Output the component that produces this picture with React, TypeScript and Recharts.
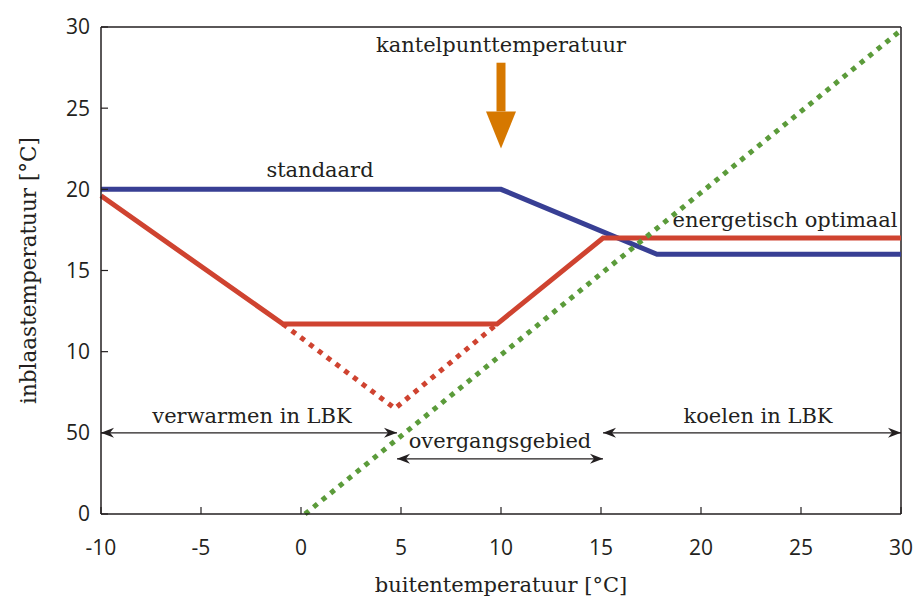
import { LineChart, Line, XAxis, YAxis, ReferenceLine, ReferenceDot } from "recharts";

const X_TICKS = [-10, -5, 0, 5, 10, 15, 20, 25, 30];
const Y_TICKS = [0, 5, 10, 15, 20, 25, 30];
const Y_TICK_LABELS = ["0", "50", "10", "15", "20", "25", "30"];

// inblaastemperatuur per buitentemperatuur
const STANDAARD = [
  { x: -10, y: 20 },
  { x: 10, y: 20 },
  { x: 17.8, y: 16 },
  { x: 30, y: 16 },
];
const OPTIMAAL = [
  { x: -10, y: 19.6 },
  { x: -0.9, y: 11.7 },
  { x: 9.8, y: 11.7 },
  { x: 15.1, y: 17 },
  { x: 30, y: 17 },
];
const OPTIMAAL_ZONDER_GRENS = [
  { x: -0.9, y: 11.7 },
  { x: 4.7, y: 6.5 },
  { x: 9.8, y: 11.7 },
];
const GELIJK = [
  { x: 0.2, y: 0 },
  { x: 30, y: 29.8 },
];

// pijlen
const VERWARMEN = [
  { x: -10, y: 5 },
  { x: 4.8, y: 5 },
];
const KOELEN = [
  { x: 15.1, y: 5 },
  { x: 30, y: 5 },
];
const OVERGANG = [
  { x: 4.8, y: 3.4 },
  { x: 15.1, y: 3.4 },
];
const KANTELPUNT = [
  { x: 10, y: 27.8 },
  { x: 10, y: 24.8 },
];

const LABELS = [
  { text: "kantelpunttemperatuur", x: 10, y: 28.9 },
  { text: "standaard", x: 0.95, y: 21.2 },
  { text: "energetisch optimaal", x: 24.2, y: 18.1 },
  { text: "verwarmen in LBK", x: -2.45, y: 6.05 },
  { text: "overgangsgebied", x: 9.95, y: 4.5 },
  { text: "koelen in LBK", x: 22.85, y: 6.05 },
];

const INK = "#231f20";
const BLUE = "#383f94";
const RED = "#cf4330";
const GREEN = "#5b9b3a";
const ORANGE = "#d67800";
const SERIF = "'DejaVu Serif', serif";
const SANS = "'Open Sans', sans-serif";

function arrowDot(props: any) {
  const { cx, cy, index } = props;
  if (cx == null || cy == null) return <g key={`a-${index}`} />;
  const d = index === 0 ? -1 : 1;
  const path = `M${cx},${cy} L${cx - d * 13},${cy - 5} L${cx - d * 9},${cy} L${cx - d * 13},${cy + 5} Z`;
  return <path key={`a-${index}`} d={path} fill={INK} stroke="none" />;
}

function headDot(props: any) {
  const { cx, cy, index } = props;
  if (cx == null || cy == null || index !== 1) return <g key={`h-${index}`} />;
  const path = `M${cx - 15},${cy} L${cx + 15},${cy} L${cx},${cy + 37} Z`;
  return <path key={`h-${index}`} d={path} fill={ORANGE} stroke="none" />;
}

function textLabel(text: string) {
  return (props: any) => {
    const vb = props.viewBox;
    const x = vb.x + (vb.width || 0) / 2;
    const y = vb.y + (vb.height || 0) / 2;
    return (
      <text x={x} y={y} textAnchor="middle" dominantBaseline="central" fill={INK} fontSize={21} fontFamily={SERIF}>
        {text}
      </text>
    );
  };
}

function XLabel(props: any) {
  const vb = props.viewBox;
  return (
    <text x={vb.x + vb.width / 2} y={592} textAnchor="middle" fill={INK} fontSize={21} fontFamily={SERIF}>
      buitentemperatuur [°C]
    </text>
  );
}

function YLabel(props: any) {
  const vb = props.viewBox;
  const cy = vb.y + vb.height / 2;
  return (
    <text
      x={28}
      y={cy}
      transform={`rotate(-90, 28, ${cy})`}
      textAnchor="middle"
      dominantBaseline="central"
      fill={INK}
      fontSize={21.5}
      fontFamily={SERIF}
    >
      inblaastemperatuur [°C]
    </text>
  );
}

export default function App() {
  return (
    <div style={{ position: "absolute", left: 0, top: 0, background: "#fff" }}>
      <LineChart width={914} height={599} margin={{ top: 27, right: 13, left: 0, bottom: 0 }}>
        <XAxis
          dataKey="x"
          type="number"
          domain={[-10, 30]}
          ticks={X_TICKS}
          height={85}
          tickSize={-7}
          tickMargin={33}
          axisLine={{ stroke: INK, strokeWidth: 1.5 }}
          tickLine={{ stroke: INK, strokeWidth: 1.2 }}
          tick={{ fill: INK, fontSize: 21, fontFamily: SANS }}
          label={{ content: <XLabel /> }}
        />
        <YAxis
          dataKey="y"
          type="number"
          domain={[0, 30]}
          ticks={Y_TICKS}
          width={101}
          tickSize={-7}
          tickMargin={18}
          tickFormatter={(v: number) => Y_TICK_LABELS[Y_TICKS.indexOf(v)] ?? String(v)}
          axisLine={{ stroke: INK, strokeWidth: 1.5 }}
          tickLine={{ stroke: INK, strokeWidth: 1.2 }}
          tick={{ fill: INK, fontSize: 21, fontFamily: SANS }}
          label={{ content: <YLabel /> }}
        />
        <ReferenceLine y={30} stroke={INK} strokeWidth={1.5} />
        <ReferenceLine x={30} stroke={INK} strokeWidth={1.5} />

        <Line data={OPTIMAAL_ZONDER_GRENS} dataKey="y" stroke={RED} strokeWidth={5} strokeDasharray="5 6" dot={false} isAnimationActive={false} />
        <Line data={STANDAARD} dataKey="y" stroke={BLUE} strokeWidth={5} dot={false} isAnimationActive={false} />
        <Line data={OPTIMAAL} dataKey="y" stroke={RED} strokeWidth={5} dot={false} isAnimationActive={false} />
        <Line data={GELIJK} dataKey="y" stroke={GREEN} strokeWidth={5} strokeDasharray="5 6" dot={false} isAnimationActive={false} />

        <Line data={VERWARMEN} dataKey="y" stroke={INK} strokeWidth={1.3} dot={arrowDot} activeDot={false} isAnimationActive={false} />
        <Line data={KOELEN} dataKey="y" stroke={INK} strokeWidth={1.3} dot={arrowDot} activeDot={false} isAnimationActive={false} />
        <Line data={OVERGANG} dataKey="y" stroke={INK} strokeWidth={1.3} dot={arrowDot} activeDot={false} isAnimationActive={false} />
        <Line data={KANTELPUNT} dataKey="y" stroke={ORANGE} strokeWidth={9} dot={headDot} activeDot={false} isAnimationActive={false} />

        {LABELS.map((l) => (
          <ReferenceDot key={l.text} x={l.x} y={l.y} r={0} fill="none" stroke="none" label={{ content: textLabel(l.text) }} />
        ))}
      </LineChart>
    </div>
  );
}
